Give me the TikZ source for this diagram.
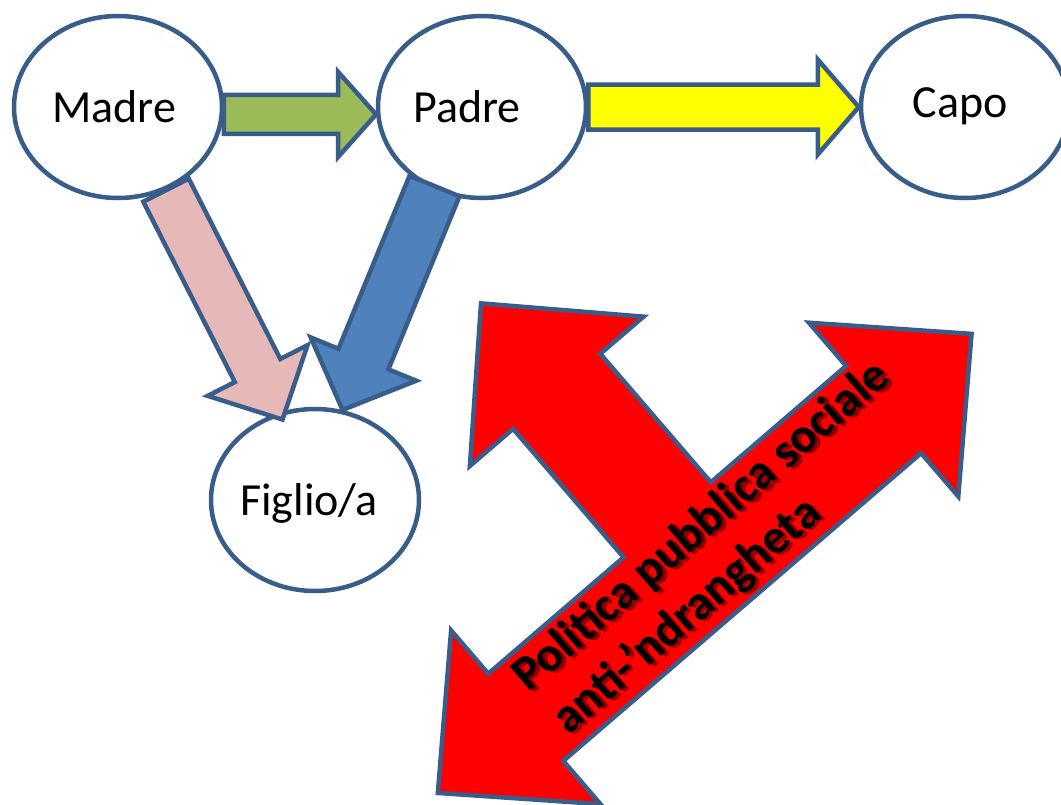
\documentclass[tikz,border=0pt]{standalone}
\usepackage{fontspec}
\setmainfont{Carlito}
\usetikzlibrary{calc,shapes.geometric}
\definecolor{outl}{HTML}{385D8A}
\definecolor{greenfill}{HTML}{9BBB59}
\definecolor{pinkfill}{HTML}{E6B9B8}
\definecolor{bluefill}{HTML}{4F81BD}
\definecolor{redfill}{HTML}{FF0000}
\definecolor{yellowfill}{HTML}{FFFF00}
\definecolor{shadowred}{HTML}{3A0000}

% block arrow: style, tail, tip, shaft half width, head half width, head length
\newcommand\blockarrow[6]{%
  \path (#2) coordinate (ba-tail) (#3) coordinate (ba-tip);
  \coordinate (ba-base) at ($(ba-tip)!#6!(ba-tail)$);
  \draw[#1] ($(ba-tail)!#4!90:(ba-tip)$) -- ($(ba-base)!#4!90:(ba-tip)$)
    -- ($(ba-base)!#5!90:(ba-tip)$) -- (ba-tip)
    -- ($(ba-base)!#5!-90:(ba-tip)$) -- ($(ba-base)!#4!-90:(ba-tip)$)
    -- ($(ba-tail)!#4!-90:(ba-tip)$) -- cycle;
}

\begin{document}
\begin{tikzpicture}[x=1pt,y=-1pt,
  person/.style={ellipse, draw=outl, line width=4.5pt, fill=white,
    minimum width=208pt, minimum height=182pt, inner sep=0pt},
  lbl/.style={font=\fontsize{46}{55}\selectfont, anchor=base, inner sep=0pt},
  blk/.style={draw=outl, line width=4.5pt, line join=miter},
  poltext/.style={font=\fontsize{48.5}{58}\selectfont\bfseries, anchor=base west,
    inner sep=0pt, transform shape},
  polshadow/.style={poltext, text=shadowred, text opacity=0.5}]
\useasboundingbox (0,0) rectangle (1061,804);
\clip (0,0) rectangle (1061,804);

% family members
\node[person] (madre) at (118,107) {};
\node[person] (padre) at (482,107) {};
\node[person] (capo) at (965,107) {};
\node[person] (figlio) at (315,500) {};
\node[lbl] (madre-t) at (114,122) {Madre};
\node[lbl] (padre-t) at (467,122) {Padre};
\node[lbl] (capo-t) at (960,117) {Capo};
\node[lbl] (figlio-t) at (309,515) {Figlio/a};

% links between them
\blockarrow{blk,fill=greenfill}{madre.-4}{padre.184}{19.5pt}{42.5pt}{38pt}
\blockarrow{blk,fill=yellowfill}{padre.east}{capo.west}{22.5pt}{47.5pt}{41pt}
\blockarrow{blk,fill=pinkfill}{madre.-60}{$(figlio.112)!8pt!(figlio.center)$}{25.5pt}{56pt}{55pt}
\blockarrow{blk,fill=bluefill}{$(padre.239)!4pt!(padre.center)$}{figlio.73}{27pt}{57pt}{55pt}

% three-headed policy arrow, drawn in its own rotated frame
\begin{scope}[shift={(704.7,563.4)}, rotate=40.7, y=1pt]
  \draw[blk, fill=redfill] (-352,0) -- (-236,114.5) -- (-236,57.5) -- (-57.5,57.5)
    -- (-57.5,227) -- (-114.5,227) -- (0,343) -- (114.5,227) -- (57.5,227)
    -- (57.5,57.5) -- (236,57.5) -- (236,114.5) -- (352,0) -- (236,-114.5)
    -- (236,-57.5) -- (-236,-57.5) -- (-236,-114.5) -- cycle;
  % soft drop shadow behind the caption
  \node[polshadow] (pol1-sha) at (-216.8,15.2) {Politica pubblica sociale};
  \node[polshadow] (pol1-shb) at (-215.7,12.0) {Politica pubblica sociale};
  \node[polshadow] (pol2-sha) at (-214.8,-42.8) {anti-’ndrangheta};
  \node[polshadow] (pol2-shb) at (-213.7,-46.0) {anti-’ndrangheta};
  \node[poltext] (pol1) at (-218,17) {Politica pubblica sociale};
  \node[poltext] (pol2) at (-216,-42) {anti-’ndrangheta};
\end{scope}
\end{tikzpicture}
\end{document}
